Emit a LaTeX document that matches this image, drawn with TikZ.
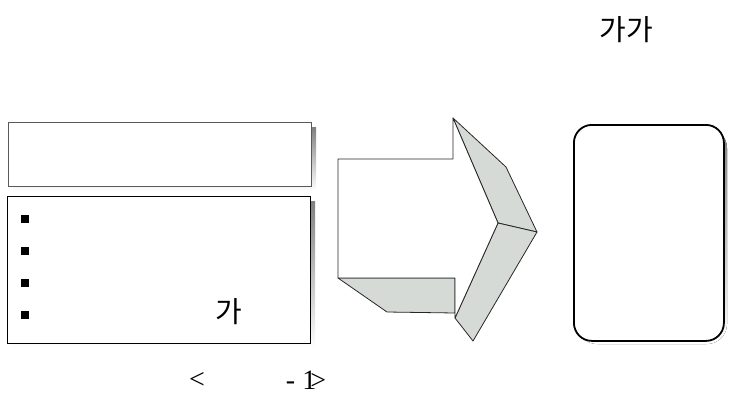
\documentclass[tikz,border=0pt]{standalone}
\usepackage{fontspec}
\setmainfont{Liberation Serif}
\newfontfamily\kr{Noto Sans CJK KR}
\definecolor{shade}{HTML}{D6DAD6}
\begin{document}
\begin{tikzpicture}[x=1pt,y=-1pt,
  shadowbox/.style={fill=shade,draw=none},
  face/.style={draw=black!85,line width=0.8pt,line join=round},
  side/.style={draw=black!85,fill=shade,line width=0.8pt,line join=round},
  bulletmark/.style={fill=black,minimum size=8pt,inner sep=0pt},
  krtext/.style={font=\kr\fontsize{29}{32}\selectfont,inner sep=0pt},
  captext/.style={font=\fontsize{28}{32}\selectfont,inner sep=0pt}]
\useasboundingbox (0,0) rectangle (735,394);
% top box
\fill[shade] (13,127) rectangle (316,191);
\node[draw=black!65,line width=1pt,fill=white,minimum width=303pt,minimum height=64pt,inner sep=0pt,anchor=north west] (title) at (8,122) {};
% bottom box
\fill[shade] (12,201) rectangle (315,348);
\node[draw=black,line width=0.9pt,fill=white,minimum width=303pt,minimum height=147pt,inner sep=0pt,anchor=north west] (list) at (7,196) {};
\node[bulletmark] (b1) at (25,219) {};
\node[bulletmark] (b2) at (25,251) {};
\node[bulletmark] (b3) at (25,283) {};
\node[bulletmark] (b4) at (25,315) {};
\node[krtext] (ga) at (229,312) {가};
% arrow
\draw[side] (453,118) -- (506,167) -- (537,232) -- (498,223) -- cycle;
\draw[side] (498,223) -- (537,232) -- (473,341) -- (455,318) -- cycle;
\draw[side] (338,278) -- (455,278) -- (455,313) -- (387,312) -- cycle;
\draw[face,fill=white] (338,159) -- (453,159) -- (453,118) -- (498,223) -- (455,318) -- (455,278) -- (338,278) -- cycle;
% right rounded box
\fill[shade,rounded corners=20pt] (577,128) rectangle (727,344);
\node[draw=black,line width=1.8pt,fill=white,rounded corners=18pt,minimum width=150pt,minimum height=216pt,inner sep=0pt,anchor=north west] (result) at (573,124) {};
% texts
\node[krtext] (head) at (626,30) {가가};
\node[captext] (capl) at (197,380) {<};
\node[captext] (capr) at (306,380) {- 1\kern-6pt>};
\end{tikzpicture}
\end{document}
